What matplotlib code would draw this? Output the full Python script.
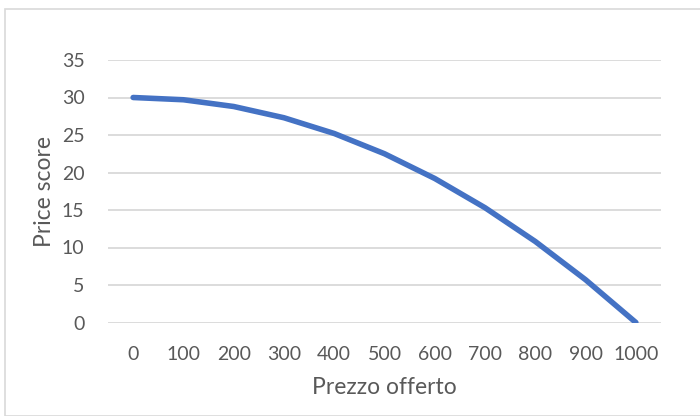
import matplotlib.pyplot as plt
from matplotlib.patches import Rectangle

prezzi = ['0', '100', '200', '300', '400', '500', '600', '700', '800', '900', '1000']
punteggi = [30, 29.7, 28.8, 27.3, 25.2, 22.5, 19.2, 15.3, 10.8, 5.7, 0]
yticks = [0, 5, 10, 15, 20, 25, 30, 35]

plt.rcParams['font.family'] = ['Lato', 'DejaVu Sans']

fig = plt.figure(figsize=(7, 4.16), dpi=100)
W, H = 700, 416
# cornice del grafico
fig.patches.append(Rectangle((5 / W, 0), 1, 1 - 9 / H, transform=fig.transFigure,
                             fill=False, edgecolor='#d9d9d9', linewidth=1.2))

ax = fig.add_axes([108 / W, 1 - 322.5 / H, 553 / W, 262.5 / H])
x = list(range(len(prezzi)))
ax.plot(x, punteggi, color='#4472c4', linewidth=4, solid_capstyle='round', zorder=3)

ax.set_xlim(-0.5, len(prezzi) - 0.5)
ax.set_ylim(0, 35)
ax.set_yticks(yticks)
ax.set_xticks(x)
ax.set_xticklabels(prezzi)
ax.grid(axis='y', color='#d9d9d9', linewidth=1.3)
ax.set_axisbelow(True)
for s in ax.spines.values():
    s.set_visible(False)
ax.tick_params(length=0, labelsize=14, colors='#595959')
ax.tick_params(axis='y', pad=17)
ax.tick_params(axis='x', pad=17)

ax.set_ylabel('Price score', fontsize=16.5, color='#595959', labelpad=5)
ax.set_xlabel('Prezzo offerto', fontsize=16.5, color='#595959', labelpad=10)

plt.savefig('out.png', dpi=100)
